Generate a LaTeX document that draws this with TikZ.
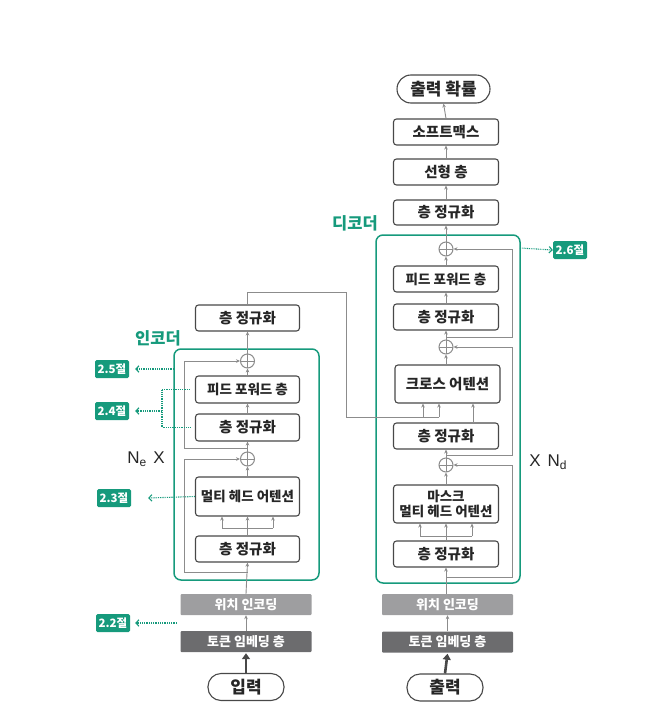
\documentclass[tikz,border=0pt]{standalone}
\usepackage{fontspec}
\setmainfont{Noto Sans CJK KR}
\newfontfamily\kr{Noto Sans CJK KR}
\newfontfamily\lat{Liberation Sans}
\usetikzlibrary{arrows.meta}
\definecolor{teal1}{RGB}{22,154,124}
\definecolor{boxc}{RGB}{72,72,72}
\definecolor{linec}{RGB}{140,140,140}
\definecolor{pec}{RGB}{158,158,160}
\definecolor{tec}{RGB}{108,108,110}
\begin{document}
\begin{tikzpicture}[x=1pt,y=-1pt,
 blk/.style={draw=boxc,line width=1.1pt,rounded corners=3pt,fill=white,inner sep=0pt,
   font=\kr\bfseries\fontsize{14.5}{16}\selectfont,text=black!85,align=center},
 encw/.style={minimum width=104pt},
 decw/.style={minimum width=105pt},
 hh/.style={minimum height=26pt},
 gbar/.style={inner sep=0pt,minimum width=131pt,minimum height=21pt,rounded corners=1pt,
   font=\kr\bfseries\fontsize{13}{15}\selectfont,text=white},
 stad/.style={draw=boxc,line width=1.1pt,rounded corners=13pt,fill=white,inner sep=0pt,
   minimum height=27pt,font=\kr\bfseries\fontsize{17}{19}\selectfont,text=black!85},
 ar/.style={draw=linec,line width=0.9pt,-{Stealth[length=4pt,width=3.6pt]}},
 ln/.style={draw=linec,line width=0.9pt},
 plusn/.style={circle,draw=linec,line width=1pt,minimum size=14pt,inner sep=0pt,fill=white,
   path picture={\draw[linec,line width=1pt] (path picture bounding box.north) -- (path picture bounding box.south) (path picture bounding box.west) -- (path picture bounding box.east);}},
 badge/.style={fill=teal1,text=white,rounded corners=1.5pt,inner sep=0pt,minimum width=34pt,minimum height=18pt,
   font=\kr\bfseries\fontsize{11.5}{12}\selectfont},
 tdots/.style={draw=teal1,line width=1.1pt,dash pattern=on 0.9pt off 0.9pt,-{Straight Barb[length=3pt,width=6.5pt,line width=1.1pt,sep=0pt]}},
 tdotl/.style={draw=teal1,line width=1.1pt,dash pattern=on 0.9pt off 0.9pt},
 frm/.style={draw=teal1,line width=1.5pt,rounded corners=7pt},
 lbl/.style={text=teal1,font=\kr\bfseries\fontsize{16.5}{18}\selectfont,inner sep=0pt},
 nlbl/.style={font=\lat\fontsize{17}{19}\selectfont,inner sep=0pt,text=black!85},
 thk/.style={draw=boxc,line width=2.6pt,-{Triangle[length=6pt,width=8pt]}}
]
\useasboundingbox (0,0) rectangle (661,712);

% frames
\draw[frm] (174,349) rectangle (319,580);
\draw[frm] (376,235) rectangle (520,583);
\coordinate (encFL) at (174,369);
\coordinate (decFR) at (520,248);

% ---------------- encoder ----------------
\node[stad,minimum width=76pt] (inp) at (246,687) {입력};
\node[gbar,fill=tec] (encTE) at (246,641.5) {토큰 임베딩 층};
\node[gbar,fill=pec] (encPE) at (246,604.5) {위치 인코딩};
\node[blk,encw,hh] (encLN0) at (247.5,549) {층 정규화};
\node[blk,encw,minimum height=39pt,font=\kr\bfseries\fontsize{13.5}{15}\selectfont] (encMHA) at (247.5,496.5) {멀티 헤드 어텐션};
\node[plusn] (encP1) at (247.5,459) {};
\node[blk,encw,minimum height=27pt] (encLN1) at (247.5,427.5) {층 정규화};
\node[blk,encw,minimum height=27pt,font=\kr\bfseries\fontsize{13.5}{15}\selectfont] (encFF) at (247.5,389.5) {피드 포워드 층};
\node[plusn] (encP2) at (247.5,361) {};
\node[blk,encw,hh] (encLN2) at (247.5,318) {층 정규화};

\coordinate (eA) at (222,528);
\coordinate (eB) at (247.5,528);
\coordinate (eC) at (273,528);
\coordinate (eR1) at (247.5,572);
\coordinate (eR2) at (247.5,448);

\draw[thk] (inp.north) -- ([yshift=-1pt]encTE.south);
\draw[ar] (encTE.north) -- (encPE.south);
\draw[ar] (encPE.north) -- (encLN0.south);
\draw[ln] (encLN0.north) -- (eB);
\draw[ln] (eA) -- (eC);
\draw[ar] (eA) -- (eA |- encMHA.south);
\draw[ar] (eB) -- (encMHA.south);
\draw[ar] (eC) -- (eC |- encMHA.south);
\draw[ar] (eR1) -- (184,572) -- (184,459) -- (encP1.west);
\draw[ar] (encMHA.north) -- (encP1.south);
\draw[ar] (encP1.north) -- (encLN1.south);
\draw[ar] (encLN1.north) -- (encFF.south);
\draw[ar] (encFF.north) -- (encP2.south);
\draw[ar] (eR2) -- (184,448) -- (184,361) -- (encP2.west);
\draw[ar] (encP2.north) -- (encLN2.south);

\node[lbl] (encL) at (158,338) {인코더};
\node[nlbl] (ne) at (146,459) {N\raisebox{-3pt}{\fontsize{12}{12}\selectfont e}\hspace{7pt}X};

% ---------------- decoder ----------------
\node[stad,minimum width=76pt] (outp) at (445,687.5) {출력};
\node[gbar,fill=tec] (decTE) at (447.5,642) {토큰 임베딩 층};
\node[gbar,fill=pec] (decPE) at (447.5,604.5) {위치 인코딩};
\node[blk,decw,hh] (decLN0) at (446,554) {층 정규화};
\node[blk,decw,minimum height=38pt,font=\kr\bfseries\fontsize{13.5}{15}\selectfont] (decMMHA) at (446,504) {마스크\\멀티 헤드 어텐션};
\node[plusn] (decP1) at (446,465) {};
\node[blk,decw,hh] (decLN1) at (446,436) {층 정규화};
\node[blk,decw,minimum height=38pt] (decCA) at (447.5,384) {크로스 어텐션};
\node[plusn] (decP2) at (446,347) {};
\node[blk,decw,hh] (decLN2) at (446,317) {층 정규화};
\node[blk,decw,hh,font=\kr\bfseries\fontsize{13.5}{15}\selectfont] (decFF) at (446,279) {피드 포워드 층};
\node[plusn] (decP3) at (446,249) {};
\node[blk,decw,minimum height=25pt] (decLN3) at (446,212.5) {층 정규화};
\node[blk,decw,hh] (lin) at (446,172) {선형 층};
\node[blk,decw,hh] (smax) at (446,132) {소프트맥스};
\node[stad,minimum width=93pt,minimum height=28pt,rounded corners=14pt] (prob) at (443.5,89) {출력 확률};

\coordinate (dA) at (420,536);
\coordinate (dB) at (446,536);
\coordinate (dC) at (472,536);
\coordinate (dR1) at (446,577);
\coordinate (dR2) at (446,455);
\coordinate (dR3) at (446,337);
\coordinate (dX) at (473,423);
\coordinate (cA) at (423,417);
\coordinate (cB) at (439,417);

\draw[thk] (outp.north) -- ([yshift=-1pt]decTE.south);
\draw[ar] (decTE.north) -- (decPE.south);
\draw[ar] ([xshift=-1.5pt]decPE.north) -- (decLN0.south);
\draw[ln] (decLN0.north) -- (dB);
\draw[ln] (dA) -- (dC);
\draw[ar] (dA) -- (dA |- decMMHA.south);
\draw[ar] (dB) -- (decMMHA.south);
\draw[ar] (dC) -- (dC |- decMMHA.south);
\draw[ar] (dR1) -- (512,577) -- (512,465) -- (decP1.east);
\draw[ar] (decMMHA.north) -- (decP1.south);
\draw[ar] (decP1.north) -- (decLN1.south);
\draw[ar] (dX) -- (dX |- decCA.south);
\draw[ar] (dR2) -- (512,455) -- (512,347) -- (decP2.east);
\draw[ar] (decP2.south |- decCA.north) -- (decP2.south);
\draw[ar] (decP2.north) -- (decLN2.south);
\draw[ar] (decLN2.north) -- (decFF.south);
\draw[ar] (dR3) -- (512,337) -- (512,249) -- (decP3.east);
\draw[ar] (decFF.north) -- (decP3.south);
\draw[ar] (decP3.north) -- (decLN3.south);
\draw[ar] (decLN3.north) -- (lin.south);
\draw[ar] (lin.north) -- (smax.south);
\draw[ar] (smax.north) -- (prob.south);

% encoder to decoder
\draw[ln] (encLN2.north) -- (247.5,292) -- (346,292) -- (346,417) -- (cB);
\draw[ar] (cA) -- (cA |- decCA.south);
\draw[ar] (cB) -- (cB |- decCA.south);

\node[lbl] (decL) at (355,223) {디코더};
\node[nlbl] (nd) at (548,462) {X\hspace{7pt}N\raisebox{-3pt}{\fontsize{12}{12}\selectfont d}};

% ---------------- badges ----------------
\node[badge] (b25) at (112,369) {2.5절};
\node[badge] (b24) at (112,411) {2.4절};
\node[badge] (b23) at (114,498) {2.3절};
\node[badge] (b22) at (113,623) {2.2절};
\node[badge] (b26) at (570,250) {2.6절};

\draw[tdots] (encFL) -- ([xshift=6pt]b25.east);
\coordinate (brk) at (162,411);
\draw[tdotl] ([xshift=-5pt]encFF.west) -- (162,389.5) -- (162,427.5) -- ([xshift=-5pt]encLN1.west);
\draw[tdots] (brk) -- ([xshift=6pt]b24.east);
\draw[tdots] (encMHA.west) -- ([xshift=17pt]b23.east);
\coordinate (e22) at (177,623);
\draw[tdots] (e22) -- ([xshift=5pt]b22.east);
\draw[tdots] (decFR) -- (b26.west);
\end{tikzpicture}
\end{document}
